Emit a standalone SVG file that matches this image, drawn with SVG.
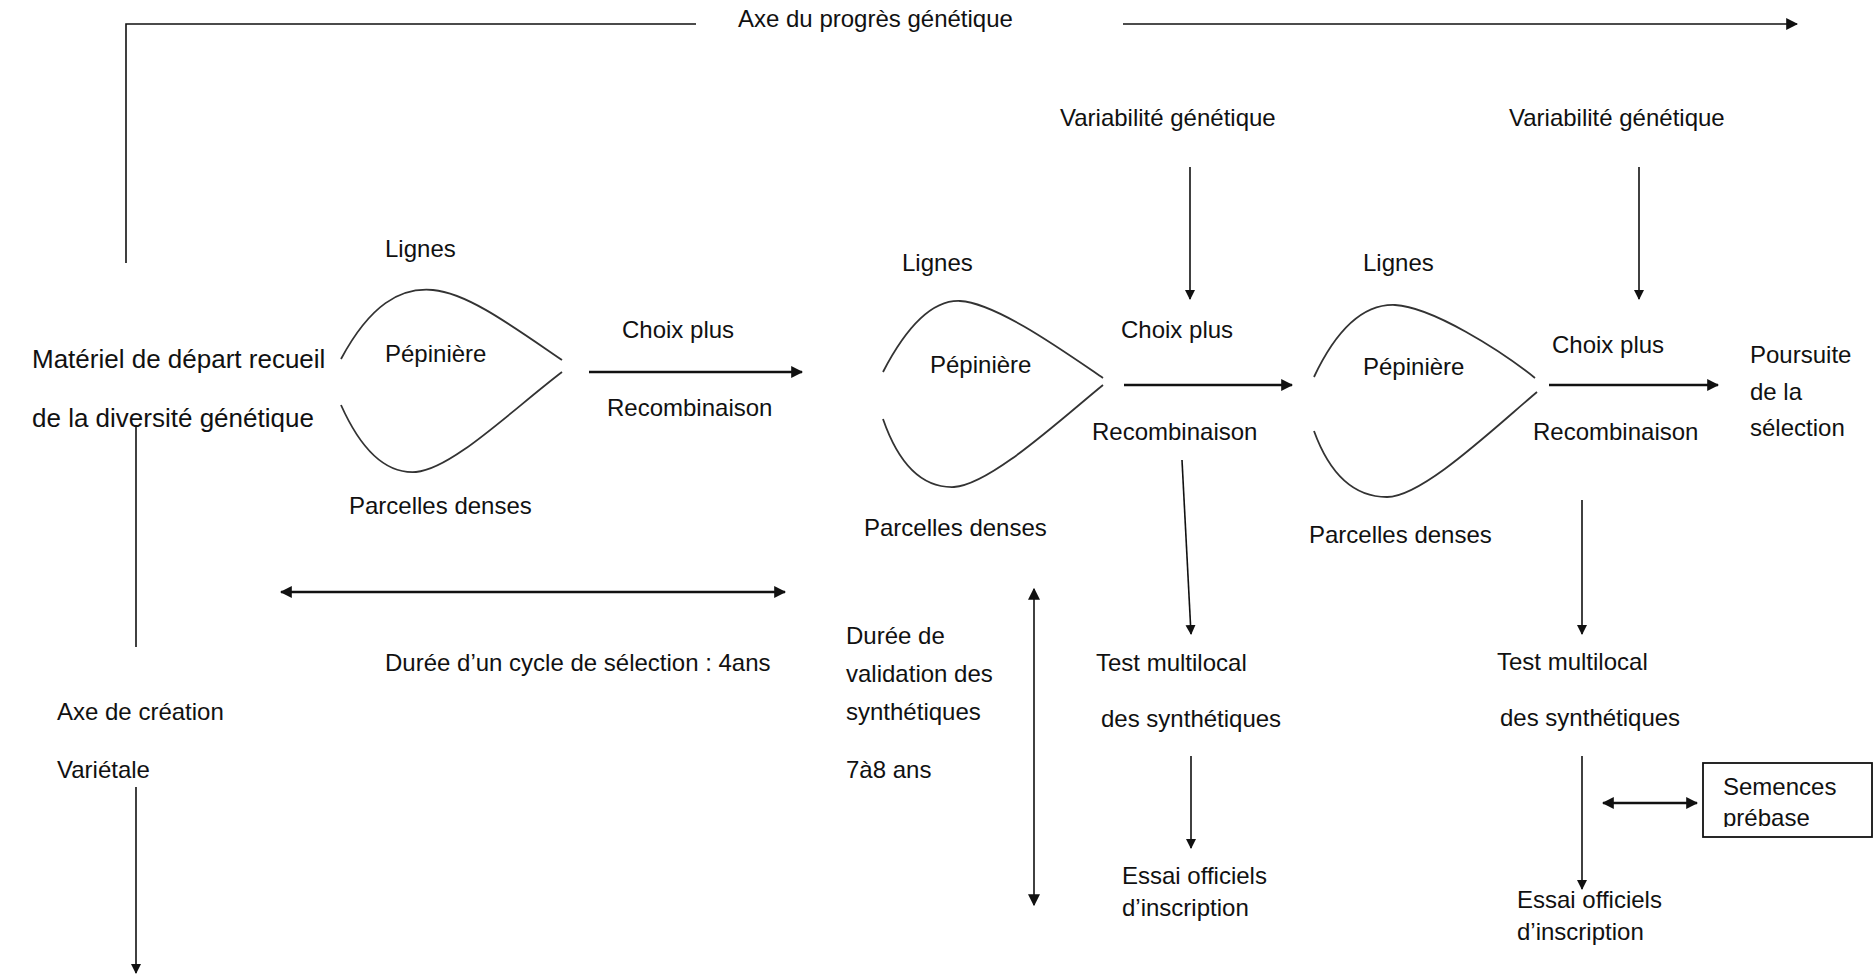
<svg xmlns="http://www.w3.org/2000/svg" width="1876" height="976" viewBox="0 0 1876 976">
<style>
text{font-family:"Liberation Sans",Arial,sans-serif;font-size:24px;fill:#111}
.big{font-size:26px}
.ln{stroke:#111;stroke-width:1.6;fill:none}
.thick{stroke:#111;stroke-width:2.6;fill:none}
.lens{stroke:#333;stroke-width:1.8;fill:none}
</style>
<defs>
<marker id="ah" viewBox="0 0 10 10" refX="9" refY="5" markerWidth="10" markerHeight="11" markerUnits="userSpaceOnUse" orient="auto-start-reverse"><path d="M0,0 L10,5 L0,10 z" fill="#111"/></marker>
<marker id="ahb" viewBox="0 0 10 10" refX="9" refY="5" markerWidth="12" markerHeight="12" markerUnits="userSpaceOnUse" orient="auto-start-reverse"><path d="M0,0 L10,5 L0,10 z" fill="#111"/></marker>
<clipPath id="boxclip"><rect x="1704" y="764" width="167" height="63"/></clipPath>
</defs>

<g id="connectors">
<path class="ln" d="M126,263 V24 H696" stroke-width="2"/>
<line class="ln" x1="1123" y1="24" x2="1797" y2="24" stroke-width="2.2" marker-end="url(#ahb)"/>
<line class="ln" x1="1190" y1="167" x2="1190" y2="299" marker-end="url(#ah)"/>
<line class="ln" x1="1639" y1="167" x2="1639" y2="299" marker-end="url(#ah)"/>
<line class="thick" x1="589" y1="372" x2="802" y2="372" marker-end="url(#ahb)"/>
<line class="thick" x1="1124" y1="385" x2="1292" y2="385" marker-end="url(#ahb)"/>
<line class="thick" x1="1549" y1="385" x2="1718" y2="385" marker-end="url(#ahb)"/>
<line class="ln" x1="136" y1="425" x2="136" y2="647"/>
<line class="ln" x1="136" y1="787" x2="136" y2="973" marker-end="url(#ah)"/>
<line class="thick" x1="281" y1="592" x2="785" y2="592" stroke-width="2.2" marker-start="url(#ahb)" marker-end="url(#ahb)"/>
<line class="ln" x1="1034" y1="589" x2="1034" y2="905" stroke-width="2" marker-start="url(#ahb)" marker-end="url(#ahb)"/>
<line class="ln" x1="1182" y1="460" x2="1191" y2="634" marker-end="url(#ah)"/>
<line class="ln" x1="1191" y1="756" x2="1191" y2="848" marker-end="url(#ah)"/>
<line class="ln" x1="1582" y1="500" x2="1582" y2="634" marker-end="url(#ah)"/>
<line class="ln" x1="1582" y1="756" x2="1582" y2="889" marker-end="url(#ah)"/>
<line class="thick" x1="1603" y1="803" x2="1697" y2="803" stroke-width="2.2" marker-start="url(#ahb)" marker-end="url(#ahb)"/>
</g>

<g id="title"><text x="738" y="27">Axe du progrès génétique</text></g>
<g id="var1"><text x="1060" y="126">Variabilité génétique</text></g>
<g id="var2"><text x="1509" y="126">Variabilité génétique</text></g>

<g id="start">
<text class="big" x="32" y="368">Matériel de départ recueil</text>
<text class="big" x="32" y="427">de la diversité génétique</text>
</g>

<g id="lens1">
<path class="lens" d="M341,359 C370,305 400,287 433,290 C468,293 515,328 562,360"/>
<path class="lens" d="M341,405 C362,452 387,474 416,472 C452,469 512,410 562,372"/>
<text x="385" y="257">Lignes</text>
<text x="385" y="362">Pépinière</text>
<text x="349" y="514">Parcelles denses</text>
</g>
<g id="choix1">
<text x="622" y="338">Choix plus</text>
<text x="607" y="416">Recombinaison</text>
</g>

<g id="lens2">
<path class="lens" d="M883,372 C910,320 935,300 960,301 C996,303 1062,350 1103,378"/>
<path class="lens" d="M883,419 C900,468 925,488 954,487 C990,485 1060,420 1103,385"/>
<text x="902" y="271">Lignes</text>
<text x="930" y="373">Pépinière</text>
<text x="864" y="536">Parcelles denses</text>
</g>
<g id="choix2">
<text x="1121" y="338">Choix plus</text>
<text x="1092" y="440">Recombinaison</text>
</g>

<g id="lens3">
<path class="lens" d="M1314,377 C1340,322 1368,304 1395,305 C1432,307 1500,350 1535,378"/>
<path class="lens" d="M1314,431 C1330,475 1355,497 1387,497 C1422,497 1492,430 1537,392"/>
<text x="1363" y="271">Lignes</text>
<text x="1363" y="375">Pépinière</text>
<text x="1309" y="543">Parcelles denses</text>
</g>
<g id="choix3">
<text x="1552" y="353">Choix plus</text>
<text x="1533" y="440">Recombinaison</text>
</g>

<g id="poursuite">
<text x="1750" y="363">Poursuite</text>
<text x="1750" y="400">de la</text>
<text x="1750" y="436">sélection</text>
</g>

<g id="axe-creation">
<text x="57" y="720">Axe de création</text>
<text x="57" y="778">Variétale</text>
</g>

<g id="cycle"><text x="385" y="671">Durée d’un cycle de sélection : 4ans</text></g>

<g id="validation">
<text x="846" y="644">Durée de</text>
<text x="846" y="682">validation des</text>
<text x="846" y="720">synthétiques</text>
<text x="846" y="778">7à8 ans</text>
</g>

<g id="test1">
<text x="1096" y="671">Test multilocal</text>
<text x="1101" y="727">des synthétiques</text>
</g>
<g id="essai1">
<text x="1122" y="884">Essai officiels</text>
<text x="1122" y="916">d’inscription</text>
</g>

<g id="test2">
<text x="1497" y="670">Test multilocal</text>
<text x="1500" y="726">des synthétiques</text>
</g>
<g id="essai2">
<text x="1517" y="908">Essai officiels</text>
<text x="1517" y="940">d’inscription</text>
</g>

<g id="semences">
<rect x="1703" y="763" width="169" height="74" fill="#fff" stroke="#111" stroke-width="1.8"/>
<g clip-path="url(#boxclip)">
<text x="1723" y="795" font-size="23">Semences</text>
<text x="1723" y="826" font-size="23">prébase</text>
</g>
</g>
</svg>
